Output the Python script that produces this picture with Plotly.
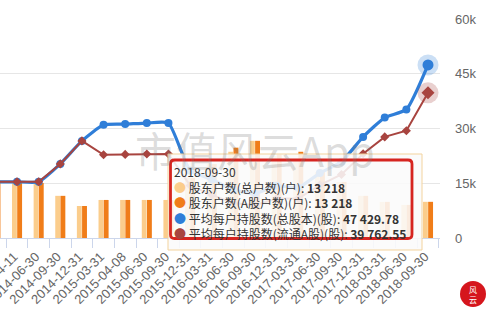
import plotly.graph_objects as go

# ---------------- data ----------------
categories = ["2014-03-31", "2014-04-11", "2014-06-30", "2014-09-30", "2014-12-31",
              "2015-03-31", "2015-04-08", "2015-06-30", "2015-09-30", "2015-12-31",
              "2016-03-31", "2016-06-30", "2016-09-30", "2016-12-31", "2017-03-31",
              "2017-06-30", "2017-09-30", "2017-12-31", "2018-03-31", "2018-06-30",
              "2018-09-30"]
households_total = [20100, 20100, 20100, 15400, 11700, 13900, 13900, 13900, 13900, 22000,
                    27000, 31500, 35500, 30000, 29000, 24000, 20500, 15400, 13200, 12100, 13218]
households_a = [20100, 20100, 20100, 15400, 11700, 13900, 13900, 13900, 13900, 22000,
                27000, 33000, 35500, 30500, 31500, 24500, 20500, 15400, 13200, 12100, 13218]
avg_total = [15400, 15400, 15400, 20300, 26600, 31000, 31200, 31500, 31500, 18500,
             16100, 13200, 12200, 14300, 13800, 17800, 20900, 27700, 33000, 35200, 47429.78]
avg_float = [15400, 15400, 15400, 20300, 26600, 22800, 22900, 23000, 23000, 14400,
             11800, 9600, 9000, 10800, 10800, 14500, 17400, 23100, 27700, 29400, 39762.55]
series_names = ["股东户数(总户数)(户)", "股东户数(A股户数)(户)",
                "平均每户持股数(总股本)(股)", "平均每户持股数(流通A股)(股)"]
right_ticks = [0, 15000, 30000, 45000, 60000]
right_tick_labels = ["0", "15k", "30k", "45k", "60k"]

C_LIGHT = "#fbcd8c"
C_ORANGE = "#f07d19"
C_BLUE = "#2f7ed8"
C_RED = "#a8443f"

W, H = 494, 315
PL, PR, PT, PB = 0, 440, 19, 238


def px(x):
    return (x - PL) / (PR - PL)


def py(y):
    return (PB - y) / (PB - PT)


fig = go.Figure()
fig.add_trace(go.Bar(x=categories, y=households_total, name=series_names[0],
                     marker=dict(color=C_LIGHT, line=dict(width=0)), yaxis="y"))
fig.add_trace(go.Bar(x=categories, y=households_a, name=series_names[1],
                     marker=dict(color=C_ORANGE, line=dict(width=0)), yaxis="y"))
fig.add_trace(go.Scatter(x=categories, y=avg_total, name=series_names[2], yaxis="y2",
                         mode="lines+markers", line=dict(color=C_BLUE, width=3.2, shape="spline", smoothing=0.5),
                         marker=dict(symbol="circle", size=8, color=C_BLUE)))
fig.add_trace(go.Scatter(x=categories, y=avg_float, name=series_names[3], yaxis="y2",
                         mode="lines+markers", line=dict(color=C_RED, width=2),
                         marker=dict(symbol="diamond", size=7, color=C_RED)))
# hover halos on last point
fig.add_trace(go.Scatter(x=categories[-1:], y=avg_total[-1:], yaxis="y2", mode="markers",
                         marker=dict(size=21, color="rgba(47,126,216,0.25)"), showlegend=False))
fig.add_trace(go.Scatter(x=categories[-1:], y=avg_total[-1:], yaxis="y2", mode="markers",
                         marker=dict(size=11, color=C_BLUE), showlegend=False))
fig.add_trace(go.Scatter(x=categories[-1:], y=avg_float[-1:], yaxis="y2", mode="markers",
                         marker=dict(size=21, color="rgba(168,68,63,0.25)"), showlegend=False))
fig.add_trace(go.Scatter(x=categories[-1:], y=avg_float[-1:], yaxis="y2", mode="markers",
                         marker=dict(symbol="diamond", size=10, color=C_RED), showlegend=False))

n = len(categories)
span = (PR - PL) / 21.63
right_edge = (n - 1) + 12 / 21.63

fig.update_layout(
    template="none",
    width=W, height=H,
    margin=dict(l=PL, r=W - PR, t=PT, b=H - PB, pad=0),
    paper_bgcolor="white", plot_bgcolor="white",
    showlegend=False, hovermode=False,
    barmode="group", bargap=0.52, bargroupgap=0.06,
    font=dict(family="Liberation Sans, Arial, sans-serif", color="#666666", size=13),
    xaxis=dict(type="category", range=[right_edge - span, right_edge], automargin=False,
               tickangle=-45, tickson="boundaries", ticks="outside", ticklen=9,
               tickcolor="#ccd6eb", showline=True, linecolor="#ccd6eb", linewidth=1,
               showgrid=False, zeroline=False, tickfont=dict(size=13, color="#666666"),
               ticklabelstandoff=5, ticklabelshift=-3),
    yaxis=dict(range=[0, 80000], dtick=20000, showgrid=True, gridcolor="#e6e6e6",
               gridwidth=1, showticklabels=False, zeroline=False, automargin=False,
               showline=False, ticks=""),
    yaxis2=dict(range=[0, 60000], overlaying="y", side="right", showgrid=False,
                tickvals=right_ticks, ticktext=right_tick_labels, zeroline=False,
                automargin=False, showline=False, ticks="",
                ticklabelstandoff=14, tickfont=dict(size=13, color="#666666")),
)

# tooltip
ox0, ox1, oy0, oy1 = 168, 422, 154, 250
fig.add_shape(type="rect", xref="paper", yref="paper", x0=px(ox0), x1=px(ox1), y0=py(oy1), y1=py(oy0),
              fillcolor="rgba(250,250,250,0.88)", line=dict(color="#f3d39d", width=1), layer="above")
rx0, rx1, ry0, ry1, r = 170.5, 412, 160, 238.5, 4


def P(x, y):
    return f"{px(x):.5f},{py(y):.5f}"


path = (f"M {P(rx0 + r, ry0)} L {P(rx1 - r, ry0)} Q {P(rx1, ry0)} {P(rx1, ry0 + r)} "
        f"L {P(rx1, ry1 - r)} Q {P(rx1, ry1)} {P(rx1 - r, ry1)} L {P(rx0 + r, ry1)} "
        f"Q {P(rx0, ry1)} {P(rx0, ry1 - r)} L {P(rx0, ry0 + r)} Q {P(rx0, ry0)} {P(rx0 + r, ry0)} Z")
fig.add_shape(type="path", xref="paper", yref="paper", path=path,
              line=dict(color="#d62520", width=2.8), fillcolor="rgba(0,0,0,0)", layer="above")


def fmt(v):
    if float(v).is_integer():
        s = f"{int(v):,}"
    else:
        s = f"{v:,.2f}"
    return s.replace(",", " ")


cjk = "Noto Sans CJK SC"
vals = [households_total[-1], households_a[-1], avg_total[-1], avg_float[-1]]
cols = [C_LIGHT, C_ORANGE, C_BLUE, C_RED]
lines = [categories[-1]]
for name, v, c in zip(series_names, vals, cols):
    lines.append(f"<span style='color:{c}'>●</span> {name}: <b>{fmt(v)}</b>")
fig.add_annotation(xref="paper", yref="paper", x=px(172), y=py(161), xanchor="left", yanchor="top",
                   text="<br>".join(lines), align="left", showarrow=False,
                   font=dict(family=cjk, size=12, color="#333333"))

# watermark
fig.add_annotation(xref="paper", yref="paper", x=px(255), y=py(149), xanchor="center", yanchor="middle",
                   text="市值风云App", showarrow=False,
                   font=dict(family=cjk, size=41, color="rgba(120,120,120,0.26)"))

# logo
fig.add_shape(type="circle", xref="paper", yref="paper", x0=px(460), x1=px(486), y0=py(307), y1=py(281),
              fillcolor="#d5161d", line=dict(width=0), layer="above")
fig.add_annotation(xref="paper", yref="paper", x=px(473), y=py(294), xanchor="center", yanchor="middle",
                   text="风<br>云", showarrow=False,
                   font=dict(family=cjk, size=8, color="white"))

fig.write_html("out.html")
